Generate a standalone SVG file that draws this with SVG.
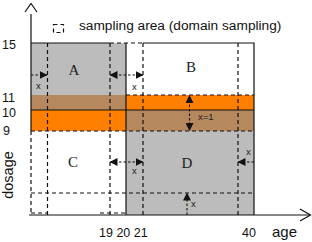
<svg xmlns="http://www.w3.org/2000/svg" width="312" height="242" viewBox="0 0 312 242">
<style>
.sans{font-family:"Liberation Sans",Arial,sans-serif;fill:#111}
.serif{font-family:"Liberation Serif","Times New Roman",serif;fill:#222;font-size:15px;text-anchor:middle}
.solid{stroke:#111;stroke-width:1.2;fill:none}
.dash{stroke:#111;stroke-width:1.2;fill:none;stroke-dasharray:4 3}
.arr{stroke:#111;stroke-width:1.1;fill:none;stroke-dasharray:2.5 2}
.small{font-family:"Liberation Sans",Arial,sans-serif;font-size:9.5px;fill:#222}
.gray{fill:#bcbcbc}
.brown{fill:#b5885e}
.orange{fill:#ff8000}
</style>
<defs>
<marker id="ah" markerUnits="userSpaceOnUse" markerWidth="8" markerHeight="8" refX="7.5" refY="4" orient="auto-start-reverse" viewBox="0 0 8 8">
<path d="M0,0 L8,4 L0,8 z" fill="#111"/>
</marker>
</defs>
<rect width="312" height="242" fill="#fff"/>

<g id="legend">
<rect x="53.5" y="24.5" width="10" height="8" class="dash" stroke-dasharray="3 2"/>
<text x="79" y="30" class="sans" font-size="13.7">sampling area (domain sampling)</text>
</g>

<g id="region-A">
<rect x="31" y="43" width="95" height="52" class="gray"/>
<text x="74" y="75" class="serif">A</text>
</g>
<g id="region-B">
<rect x="126" y="43" width="128" height="52" fill="#fff"/>
<text x="191" y="72" class="serif">B</text>
</g>
<g id="band">
<rect x="31" y="95" width="95" height="15" class="brown"/>
<rect x="126" y="95" width="128" height="15" class="orange"/>
<rect x="31" y="110" width="95" height="21" class="orange"/>
<rect x="126" y="110" width="128" height="21" class="brown"/>
</g>
<g id="region-C">
<rect x="31" y="131" width="95" height="84" fill="#fff"/>
<text x="73" y="166.5" class="serif">C</text>
</g>
<g id="region-D">
<rect x="126" y="131" width="128" height="84" class="gray"/>
<text x="187" y="168" class="serif">D</text>
</g>

<g id="frame">
<path d="M31,43 H110 M143,43 H254 V215 M126,43 V215 M31,110 H254" class="solid"/>
<path d="M31,14 V131" class="solid" stroke-width="1.5"/>
<path d="M25,12 L31,3.5 L37,12" class="solid" stroke-width="2"/>
<path d="M29,215 H310" class="solid" stroke-width="1.8"/>
<path d="M300,209 L310.5,215 L300,221" class="solid" stroke-width="2"/>
</g>

<g id="sampling-areas">
<path d="M110,43 H143" class="dash"/>
<path d="M47.5,43 V215 M110,43 V215 M143,43 V215 M238,43 V215" class="dash"/>
<path d="M126,95 H254 M31,131 H254 M31,193 H254" class="dash"/>
<path d="M31,131 V215 M31,213 H47.5 M100,213 H126" class="dash"/>
</g>

<g id="connectors">
<path d="M31,75 H47" class="arr" marker-end="url(#ah)"/>
<path d="M110,75 H143" class="arr" marker-start="url(#ah)" marker-end="url(#ah)"/>
<path d="M110,162 H143" class="arr" marker-start="url(#ah)" marker-end="url(#ah)"/>
<path d="M254,162 H238" class="arr" marker-end="url(#ah)"/>
<path d="M187,215 V193" class="arr" marker-end="url(#ah)"/>
<path d="M189.5,95.5 V130.5" class="arr" marker-start="url(#ah)" marker-end="url(#ah)"/>
</g>

<g id="arrow-labels">
<text x="36" y="89" class="small">x</text>
<text x="132" y="90" class="small">x</text>
<text x="132" y="174" class="small">x</text>
<text x="246" y="155" class="small">x</text>
<text x="191" y="207" class="small">x</text>
<text x="198" y="119.5" class="small" fill="#333">x=1</text>
</g>

<g id="axis-labels">
<text x="2" y="48.5" class="sans" font-size="12.5">15</text>
<text x="2" y="101.5" class="sans" font-size="12.5">11</text>
<text x="2" y="116.5" class="sans" font-size="12.5">10</text>
<text x="3" y="134.5" class="sans" font-size="12.5">9</text>
<text transform="translate(13,175) rotate(-90)" class="sans" font-size="14.5" text-anchor="middle">dosage</text>
<text x="99" y="237" class="sans" font-size="12.5">19 20 21</text>
<text x="242" y="237" class="sans" font-size="12.5">40</text>
<text x="272" y="237" class="sans" font-size="15">age</text>
</g>
</svg>
